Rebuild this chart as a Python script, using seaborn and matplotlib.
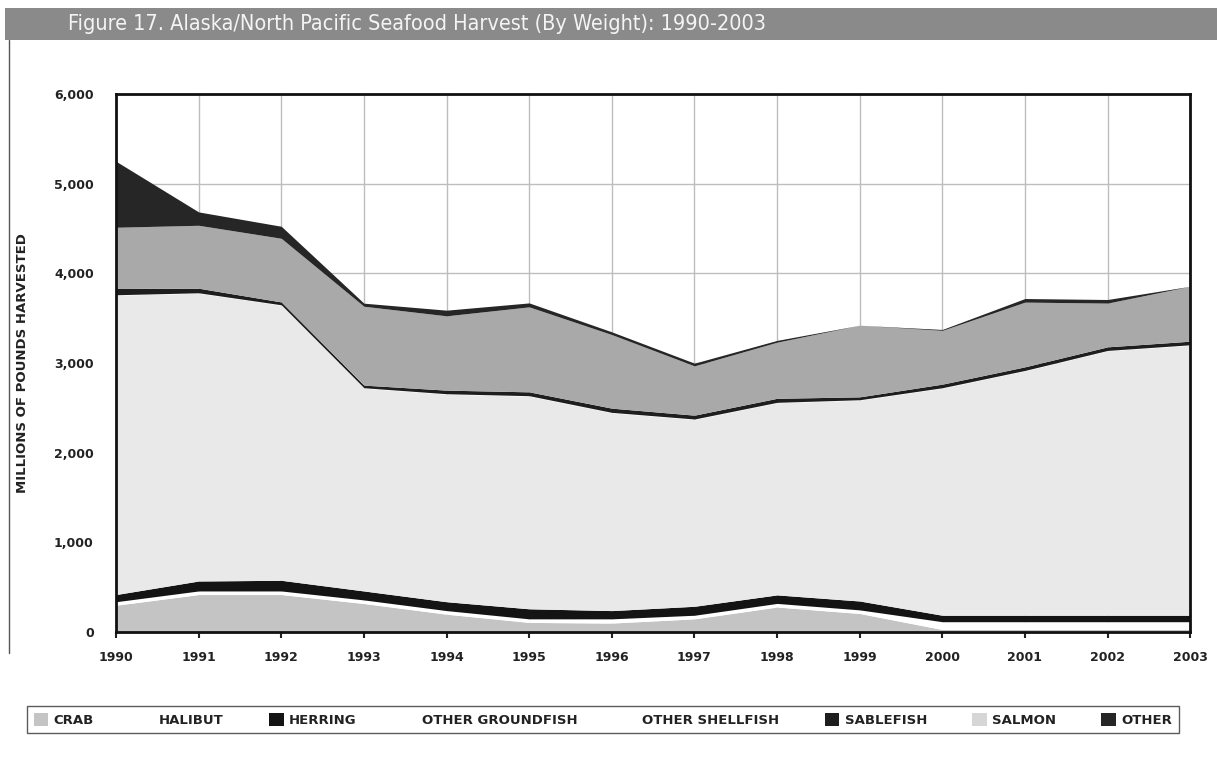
import numpy as np
import pandas as pd
import seaborn as sns
import matplotlib.pyplot as plt
from matplotlib.patches import Patch, Rectangle
from matplotlib.lines import Line2D

# Data (millions of pounds)

years = [1990, 1991, 1992, 1993, 1994, 1995, 1996, 1997, 1998, 1999, 2000, 2001, 2002, 2003]
crab = [299, 418, 418, 318, 199, 107, 100, 147, 279, 207, 28, 28, 28, 28]
halibut = [39, 40, 40, 40, 40, 40, 47, 40, 40, 40, 87, 87, 87, 87]
herring = [80, 111, 119, 100, 99, 112, 92, 100, 95, 99, 72, 72, 72, 72]
other_groundfish = [3339, 3210, 3068, 2262, 2315, 2372, 2206, 2084, 2143, 2240, 2533, 2726, 2949, 3012]
other_shellfish = [5, 5, 5, 5, 5, 5, 5, 5, 5, 5, 5, 5, 5, 5]
sablefish = [70, 51, 32, 29, 40, 43, 47, 43, 45, 32, 40, 40, 40, 40]
salmon = [683, 702, 710, 880, 829, 948, 821, 550, 626, 799, 600, 722, 488, 613]
other = [736, 149, 134, 34, 63, 44, 30, 30, 20, 0, 10, 40, 40, 0]

labels = ['CRAB', 'HALIBUT', 'HERRING', 'OTHER GROUNDFISH', 'OTHER SHELLFISH', 'SABLEFISH', 'SALMON', 'OTHER']
colors = ['#c4c4c4', '#ffffff', '#141414', '#e9e9e9', '#ffffff', '#1e1e1e', '#a9a9a9', '#262626']
legend_colors = ['#c4c4c4', 'none', '#141414', 'none', 'none', '#1e1e1e', '#d6d6d6', '#262626']

harvest = pd.DataFrame({
    'CRAB': crab, 'HALIBUT': halibut, 'HERRING': herring,
    'OTHER GROUNDFISH': other_groundfish, 'OTHER SHELLFISH': other_shellfish,
    'SABLEFISH': sablefish, 'SALMON': salmon, 'OTHER': other}, index=years)

sns.set_style('white')
plt.rcParams['font.family'] = ['DejaVu Sans']

fig = plt.figure(figsize=(12.17, 7.59), dpi=100)
ax = fig.add_axes([0.0953, 0.1673, 0.8827, 0.7087])

ax.stackplot(harvest.index, [harvest[c] for c in labels], colors=colors, linewidth=0)

ax.set_xlim(1990, 2003)
ax.set_ylim(0, 6000)
ax.set_xticks(years)
ax.set_yticks(range(0, 6001, 1000))
ax.set_yticklabels([f'{v:,}' for v in range(0, 6001, 1000)])
ax.tick_params(axis='both', labelsize=9, length=4, width=1.5, color='#222222', pad=10)
ax.tick_params(axis='y', length=0, pad=16)
for lbl in ax.get_xticklabels() + ax.get_yticklabels():
    lbl.set_fontweight('bold')
    lbl.set_color('#222222')
ax.xaxis.set_ticks_position('bottom')

ax.grid(True, color='#bdbdbd', linewidth=1)
for g in ax.get_xgridlines() + ax.get_ygridlines():
    g.set_zorder(0.5)
for coll in ax.collections:
    coll.set_zorder(1)

for s in ax.spines.values():
    s.set_visible(True)
    s.set_color('#111111')
    s.set_linewidth(2)

ax.set_ylabel('MILLIONS OF POUNDS HARVESTED', fontsize=9.5, fontweight='bold', color='#222222', labelpad=18)

# title banner
fig.patches.append(Rectangle((0.004, 0.947), 0.996, 0.042, transform=fig.transFigure,
                             facecolor='#8a8a8a', edgecolor='none', zorder=0))
fig.text(0.056, 0.969, 'Figure 17. Alaska/North Pacific Seafood Harvest (By Weight): 1990-2003',
         fontsize=15.5, color='#f4f4f4', va='center', ha='left', fontstretch='condensed',
         family=['DejaVu Sans'])
fig.lines.append(Line2D([0.007, 0.007], [0.14, 0.947], transform=fig.transFigure,
                        color='#555555', linewidth=1))

# legend
handles = [Patch(facecolor=c, edgecolor='none') for c in legend_colors]
leg = fig.legend(handles, labels, ncol=8, loc='lower left',
                 bbox_to_anchor=(0.017, 0.025, 0.957, 0.05), mode='expand',
                 frameon=True, fancybox=False, handlelength=1.1, handleheight=1.1,
                 handletextpad=0.4, borderpad=0.5, prop={'weight': 'bold', 'size': 9.5})
leg.get_frame().set_edgecolor('#333333')
leg.get_frame().set_linewidth(1)
for t in leg.get_texts():
    t.set_color('#222222')

plt.savefig('out.png', dpi=100)
